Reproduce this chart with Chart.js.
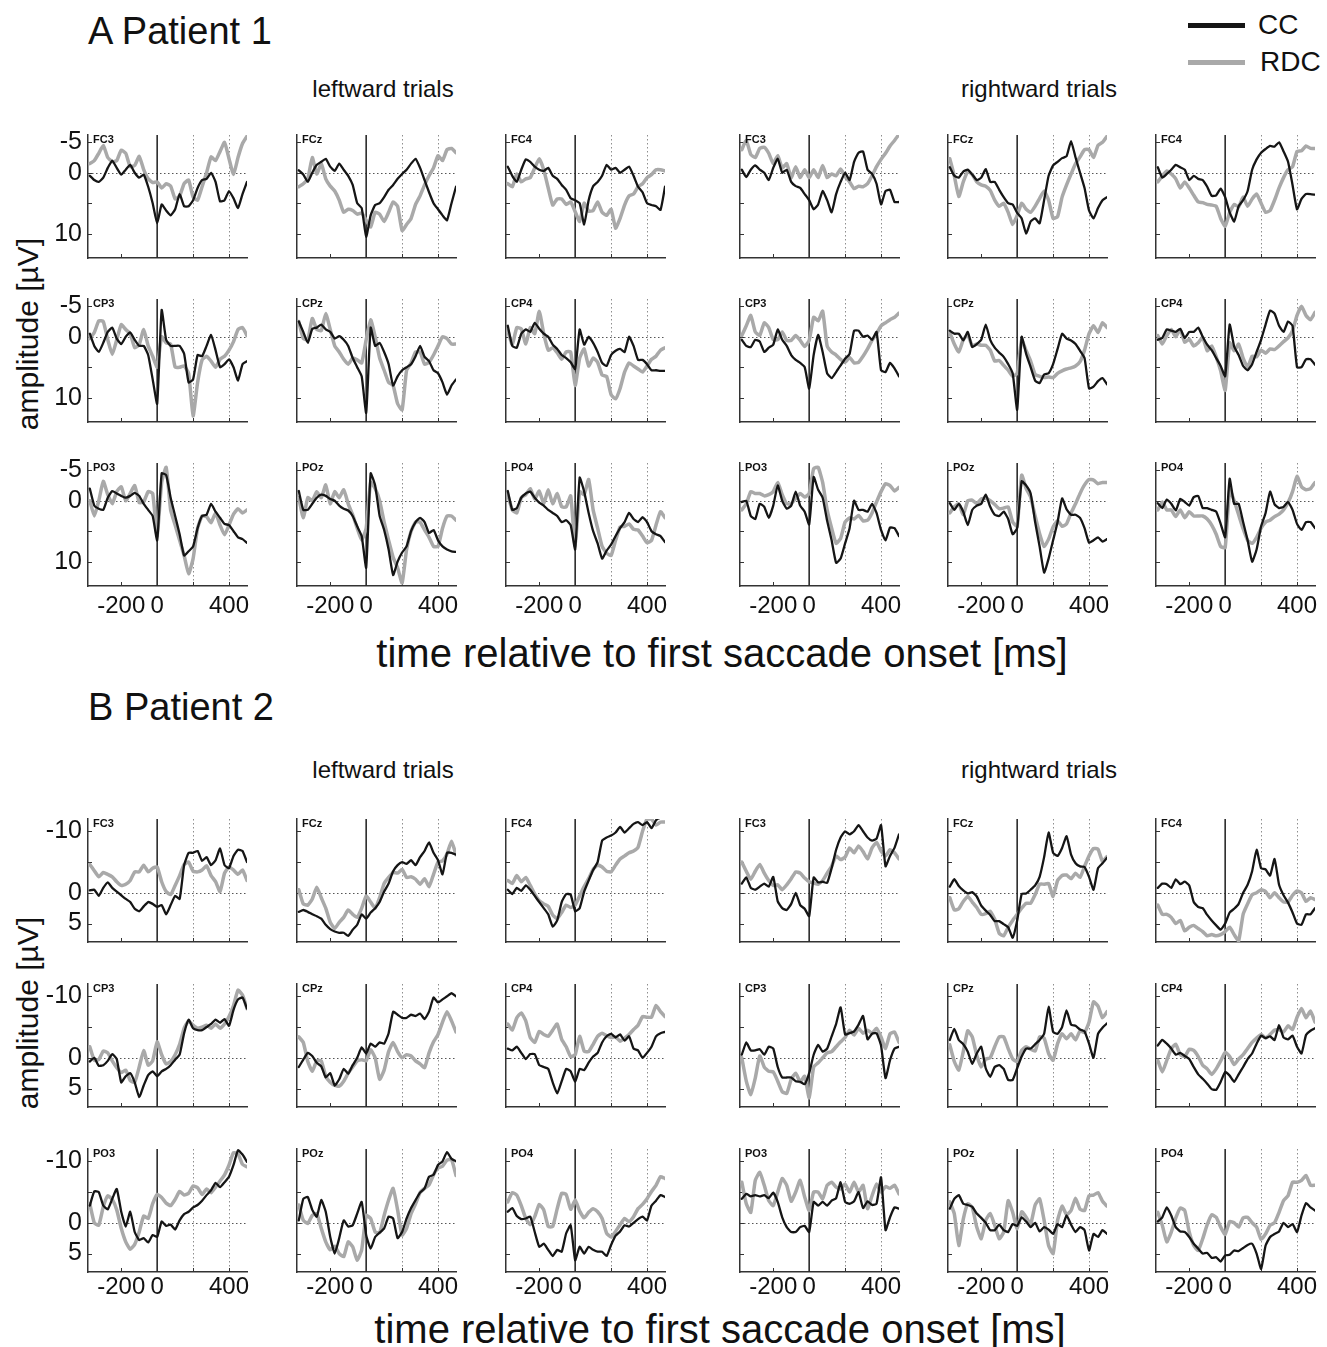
<!DOCTYPE html>
<html lang="en"><head><meta charset="utf-8"><title>CC vs RDC ERPs</title>
<script src="https://cdn.jsdelivr.net/npm/chart.js@4.4.1/dist/chart.umd.min.js"></script>
<style>
html,body{margin:0;padding:0;background:#fff}
body{position:relative;width:1327px;height:1347px;overflow:hidden;font-family:"Liberation Sans",Arial,Helvetica,sans-serif;color:#111}
.txt{position:absolute;white-space:nowrap;line-height:1}
.panel{position:absolute}
.leg{position:absolute;height:5px}
</style></head><body>
<script>
// ---------------- data ----------------
const times = [-375,-350,-325,-300,-275,-250,-225,-200,-175,-150,-125,-100,-75,-50,-25,0,25,50,75,100,125,150,175,200,225,250,275,300,325,350,375,400,425,450,475,500];
const xTickValues = [-200, 0, 200, 400];
const xTickLabels = ['-200', '0', '', '400'];
const yTickValuesA = [-5, 0, 5, 10];
const yTickLabelsA = ['-5', '0', '', '10'];
const yTickValuesB = [-10, -5, 0, 5];
const yTickLabelsB = ['-10', '', '0', '5'];
const dottedTimes = [200, 400];
const channelRows = [['FC3','FCz','FC4'],['CP3','CPz','CP4'],['PO3','POz','PO4']];
const seriesNames = ['CC', 'RDC'];
const patientTitles = ['A Patient 1', 'B Patient 2'];
const groupTitles = ['leftward trials', 'rightward trials'];

// Patient 1 (A) – leftward
const A_L_FC3_CC  = [0.5,1.2,1.5,0.8,-0.8,-2,-0.8,0.3,-0.5,-1.3,0,0.8,0.3,2.3,5,8.3,5.2,6.2,7,6,3.5,5.5,5.5,4.5,2.5,1.2,1,0,1.5,4.7,4.5,3,4.2,5.8,3.5,1.5];
const A_L_FC3_RDC = [-1.5,-2,-3.2,-4.5,-2.5,-1.8,-2,-3.7,-3.2,-1,-1.2,-2.7,-0.5,1,1.6,1.5,2.5,1.8,2.2,4.3,3.8,1.8,1.2,4,4.5,2.3,0,-2.6,-2,-3.5,-5,-2.3,0.3,-2.5,-4.8,-6];
const A_L_FCz_CC  = [-0.4,0.3,1.5,0,-1.3,-1.8,-2.3,-1,-0.3,-1.5,-0.5,0.5,2,5,5.8,10.5,7,5.3,5,4,2.8,2,1,0.2,-0.5,-1.5,-2.3,-0.8,1.2,3.2,5,6,7,7.8,5,2.3];
const A_L_FCz_RDC = [2.3,1.8,1,-2.5,0.2,-1.5,1,2.2,3,4.5,6.5,6,6.2,6.8,6.6,7.8,8.9,6.5,6.8,8,6.5,4.8,5.5,9.5,8.5,7.5,5.2,3.8,2,0.5,-0.8,-2.8,-2,-3.8,-4,-3.3];
const A_L_FC4_CC  = [-1,0.5,1.5,-0.5,-2.2,-1.8,-1,-0.5,-0.3,-0.8,0.5,1,2,2.8,4.2,4.5,5,8.5,4.5,2.2,1.5,0.5,-1.3,-0.5,-0.8,0,-0.5,-1,0.5,2.3,3.2,5,5.3,5.5,6.1,2.3];
const A_L_FC4_RDC = [1.8,2.3,0.2,1.5,1,0.8,-0.8,-2.3,-0.5,2.5,5.3,4.3,4.3,5.2,4.8,6.4,8,5,6.3,6.2,4.8,6.5,7,6,9.1,7.5,5.3,3.8,3.5,2.3,1.8,0.8,0.3,-0.5,-0.5,-0.3];
const A_L_CP3_CC  = [-0.5,1.5,2.5,1,-0.8,-1.5,0.3,1.2,0,-0.7,0.5,1.5,1.5,3,7,11,-4.4,0.5,1.5,1.5,1.5,2.8,7.5,7,3,3.2,1.5,-0.3,2.2,5,4.5,3.7,5,7.2,4.5,4];
const A_L_CP3_RDC = [0.3,-0.7,-2.6,-2.5,0.5,2.9,0.5,-2,-1.2,-0.5,1.8,1.3,-1.2,1.5,3.2,5,0,1,1.2,5,5,4.8,6,13,7.5,3.8,3.2,4,5,3.7,3.2,2.2,0.8,-1.2,-1.5,-0.2];
const A_L_CPz_CC  = [-2.5,-0.8,1,-1.3,-1.5,-2,-1.2,-0.8,0.3,-0.1,0.5,1.5,3.5,5,6.5,12.5,-1.5,1.5,1,2.5,4.5,8,6.5,5.5,5,4.5,3.2,1.5,3.3,4,5.5,6,7.5,9.5,8,7];
const A_L_CPz_RDC = [-2.5,0.3,0.5,-3,-1.2,-1,-3.8,-1.2,1.5,2.5,3.7,4.5,3.5,3.8,4.3,0.5,-2.8,0,3.5,5.5,7.5,8,11,12,5.5,4.3,2.5,2.5,4.5,4.2,3,1.5,0,0.3,1.2,1.2];
const A_L_CP4_CC  = [-1.8,1.5,1.8,-0.5,-1.2,-0.8,-2.3,-1.3,-0.5,0,1.3,2,3,3.5,4.2,5.3,-1.2,1.3,0,1,2.5,4.3,4.8,3,2.3,2,2.5,0,1.5,3.8,3.8,4.5,5.5,5.5,5.6,5.6];
const A_L_CP4_RDC = [-1,1.3,-1.5,-1.3,1.2,-1.5,-0.5,-4.2,-0.5,2.2,1.8,2.6,3.7,2.5,2.5,8,3.5,2,4.8,3.5,4.2,6.3,6.5,9.5,10.2,8.5,5.8,4.3,4.8,5.3,5.8,4.8,3.7,3.2,2.2,1.8];
const A_L_PO3_CC  = [-2,0.8,1.3,1.5,-0.5,-1.6,-1.2,-0.8,-0.5,-0.8,-1.3,-0.8,0.5,1.5,2.5,6.5,-4.5,-4.2,-0.5,2.5,5.5,9,8.3,7.5,4.5,2.5,2.3,0.5,1.8,2.8,3.8,4,5,6,6.3,6.9];
const A_L_PO3_RDC = [0,2.5,0,-3.2,-1,0.5,-1.5,-2.3,0,-1.2,-2.5,0.3,0.2,-1.5,-1.2,5.8,-3,-5.5,1.5,4,6.5,9,12,9.5,4.5,2.5,2.6,3.6,2,4,5.6,4,2.2,1.3,2,1.5];
const A_L_POz_CC  = [-1.6,1.5,1.5,0.5,-0.5,-1,-0.8,-0.3,0,0.8,1.3,1.6,2.5,4.2,5.8,11,-4.5,-2.5,2.5,4.8,8,12.2,10,8.5,7.5,5,3.5,2.8,3.5,5.3,4.8,6.5,7.5,8,8.3,8.4];
const A_L_POz_RDC = [-0.5,2.8,-0.5,0,-1.5,-0.5,-2.6,0.5,-1.5,-0.5,-1.8,0.5,2.3,4.5,6.5,4.5,-3,-2,0,3.5,6.5,9.3,11,13.5,8,5,3.5,3.5,4.8,6,7.5,7.5,4.5,2.5,2.5,3.2];
const A_L_PO4_CC  = [-1.6,1.5,1.2,-0.5,-1.2,-1.5,-0.5,0.3,0.8,1.5,2,2.5,3.5,3.2,4,8,-3.8,-1.5,2,5,7,9.5,8.2,7.2,5.8,4.5,3.5,2,3,3.5,2.7,3.5,5,5.5,5.8,6.8];
const A_L_PO4_RDC = [-1,1.5,2,-0.5,-1,-2,-0.3,-1.6,0.5,-1.8,0.5,-1.2,1,1,-0.8,7.5,-1.5,-1,-3.5,1.5,4.5,7.5,8.6,9,6.5,4.3,4.2,3.8,4.7,4.8,5.8,6.9,6.5,4,1.8,2.8];
// Patient 1 (A) – rightward
const A_R_FC3_CC  = [-0.5,0.7,-0.5,-1.2,-0.5,0,1.2,-0.8,-2.3,0,-0.5,1.5,2.2,2.5,3.5,4.5,6,5.2,3,4.5,6.5,3.5,1.5,0,1.2,-1.8,-3.3,-3.5,-0.5,0.2,1.8,5.2,3,2.8,4.8,4.8];
const A_R_FC3_RDC = [-3.8,-5.3,-3,-2.5,-4,-4.2,-3.2,-1.5,-2.8,-0.8,-1.5,0.8,-1,0.8,-0.5,0.8,-0.5,0.8,-1.2,0.8,0.2,0.5,-0.6,0.6,1.5,2.6,2.2,2.3,1.8,0.5,-1,-2.2,-3.2,-4.4,-5.3,-6.3];
const A_R_FCz_CC  = [-0.9,0.5,0.8,-0.2,-0.5,0.3,1.2,0.8,-0.6,1.5,1.5,2.8,4,5,5.2,6.6,7.5,10,8,7.5,8.3,4.5,0.5,-1.2,-1.8,-2.4,-2.7,-5.2,-2.5,0,2.5,6.2,7.5,5.8,4.5,4];
const A_R_FCz_RDC = [-2.3,0.5,3.9,1.5,-0.2,0.3,1.5,2,2.2,2.9,4.5,5.5,5,6.5,8.5,7,5,6,6.5,5.5,4.2,3,4.5,7.5,7.2,4,2,0.2,-1.5,-2.6,-3.8,-3.8,-2.5,-4.5,-5,-6];
const A_R_FC4_CC  = [-0.9,0.8,0.2,-0.5,-1.3,-0.9,-0.5,1.2,0.5,1,1.2,2.3,3.8,3.7,2.6,4,6.5,8,5.5,4.5,3,-0.5,-2.2,-3.3,-3.9,-4.4,-4.3,-5,-3.5,-1.8,2,6,4.3,3.5,3.5,3.6];
const A_R_FC4_RDC = [1.5,0.5,-0.3,0.2,1,2.5,1.5,2.5,3.7,4.8,4.9,5.2,5.3,5.5,7.5,8.8,6.5,5.2,5.6,4,5.5,4.3,3.5,5,6.5,6.2,4.5,2.5,0.8,-0.5,-1,-3.5,-3.6,-4.4,-4,-4];
const A_R_CP3_CC  = [0.5,1.5,1.7,0.5,0.8,2.5,1.8,1.3,-1.2,0.5,1.5,3,3.8,4.3,5,8.5,3,-0.3,2.5,6,6.8,5.8,4.7,3.6,2.8,-1,-1,0,-0.2,0.5,-0.8,5.5,5.8,4.3,5.2,6.5];
const A_R_CP3_RDC = [-0.2,-1.8,-3.5,-0.8,-0.2,-2.3,-1.5,0.5,0.5,-0.8,0.6,0.6,-0.2,0.6,1.6,0.6,-3.2,-2.6,-4.2,1.5,2.5,3,3.7,4.2,3.4,4.3,4.2,3.2,2,0.6,-0.5,-1.8,-2.3,-2.8,-3.2,-3.9];
const A_R_CPz_CC  = [-1,-0.5,-0.5,0.6,-0.8,1.7,1.2,0.5,-2,0.5,1.8,2.6,3.3,4.5,6,12,0,2.8,5,7.2,7.6,6.2,6,4.5,2,-0.5,0.3,0.6,1.2,2.3,3.5,8.5,8.2,7.3,6.8,7.8];
const A_R_CPz_RDC = [-0.7,1.2,2.5,0.5,-0.3,1.5,1.2,1.4,1.4,2.2,4,3.9,4.7,5.5,6.5,6,0.5,2.3,4,6.2,6.5,6.7,6.6,6.7,6,5.6,5.3,5.1,4.8,4.1,2.2,-0.5,-1.8,-0.7,-2.3,-1.5];
const A_R_CP4_CC  = [0.5,0.2,-1.2,-1,-0.8,-1.3,0.2,-0.8,-0.8,-1.5,0,1.3,2.2,3.5,4.8,6.5,-2,1.6,3,4.8,5.5,4.5,2.5,0.5,-2,-4.3,-3.8,-1.8,-0.8,-2.5,-1.8,5,5,3.7,3.7,4.6];
const A_R_CP4_RDC = [-0.2,1.2,-0.2,-1.2,0,-1.2,0.9,0.4,1.5,1,0.1,2.3,1.5,3.3,5.6,8.8,1,2.3,1.2,3.5,5,3.2,3.3,2.2,2.7,2,2.1,1.5,0.8,0.2,-1,-3.5,-5,-3.5,-2.8,-4];
const A_R_PO3_CC  = [0.2,0,2.5,3,0.5,1,2.8,0.8,-2.5,0,1.3,0.8,-1.5,0.8,1.8,3.9,-3.9,-1.8,-0.5,3.3,6.5,10.2,9.5,7,4.5,0,1.5,1.5,1.8,0.5,2,4.8,6.5,4.4,4.5,5.8];
const A_R_PO3_RDC = [1.5,0.5,-1.5,-1.2,-1.2,-0.8,-1,-1.5,-3,-1,0.5,0.5,-0.4,-1.2,-0.6,-1.2,-5.3,-5.5,-3,1.5,4.5,7,6.2,3.5,2.8,3,2.4,3.3,3.2,2,0.2,-1.5,-2.8,-2.5,-1.6,-2.2];
const A_R_POz_CC  = [0.4,1.5,0.5,1.8,4,1.5,0.8,0.5,-1,1,2.3,2.5,1.8,3,5.5,4.5,-3.2,-2.5,-1.2,3.5,7.5,11.8,9.5,6.5,3.5,-0.4,1.4,2.3,2.3,2.8,4.5,6.9,6.5,6,6.7,6.3];
const A_R_POz_RDC = [2,1,0.5,2.3,0,-0.1,0.5,-0.3,-0.4,0,0.6,1.3,1.2,1,3.5,4.2,-4.2,-2,-0.6,2.5,5.4,7.5,6.3,4.3,3.3,4.2,3.8,2,0.5,-1.2,-2.6,-3.5,-3.4,-2.8,-3,-3];
const A_R_PO4_CC  = [0.4,1.2,-0.2,0.5,1.6,-0.3,0.2,0.8,-0.6,-0.8,1.2,1.2,1.5,1.8,3.8,6,-3.6,0.5,0.5,3.5,6.5,10,8,4.2,2,-1.5,0.6,1.2,1,0.2,1.5,3.8,4.8,3.5,3.5,4.5];
const A_R_PO4_RDC = [1.5,0.2,1.5,1.5,2.6,1.5,2.8,1.8,2.5,2.5,2.5,3,4,5.5,7.5,7.7,-1.8,0,2.3,4.6,6.5,7,6,4.5,3.5,3.2,2.6,2.2,1.5,0.3,-1.5,-4,-2.3,-1.8,-2,-3];
// Patient 2 (B) – leftward
const B_L_FC3_CC  = [-0.4,-0.5,0.5,-0.8,-1.7,-0.8,-0.2,0.4,1,1.5,2.6,3,2.2,1.5,1.8,2.3,2,3.5,2,0.5,1,-4.5,-6.5,-6.5,-6.8,-5.2,-5.8,-4.5,-5.3,-7.2,-4.5,-4,-6,-7,-6.8,-5];
const B_L_FC3_RDC = [-4.6,-3.6,-2.6,-3.3,-3,-2.6,-1.8,-1.2,-1.4,-2,-3.4,-3.4,-4.5,-3.4,-4,-4.2,-1.8,-0.2,0.3,-1.2,-2.8,-4.6,-5,-3.5,-3.4,-3.7,-4.4,-2.8,-1.8,-0.2,-3.2,-4.2,-3.7,-3,-3.7,-2];
const B_L_FCz_CC  = [3.1,2.8,3.1,3.5,3.8,4.2,5.2,5.9,6.3,6.5,6.5,7,6,5.2,3.5,4.2,3.2,2.5,1.5,-0.2,-1.5,-3.5,-4.5,-5,-4.7,-5.3,-4.5,-5.8,-6.8,-8.2,-6.5,-5.3,-3,-6.5,-6.5,-6.2];
const B_L_FCz_RDC = [-0.5,1.8,2,1,-0.9,0.8,2.5,4.8,5.8,4.8,4,2.8,3.5,4,2.5,0.5,1.5,2.5,0.8,-1.5,-2.5,-3.3,-3.2,-3.8,-2.5,-2.6,-2.2,-1.4,-2.3,-1,-3,-5,-5.2,-6.3,-8.4,-6.2];
const B_L_FC4_CC  = [-0.5,0.2,-0.8,-0.3,-1.2,-0.5,0.5,1.5,2.5,3.5,5.5,4.5,1.5,0.2,0.3,3,2.5,-0.2,-2,-3.7,-5,-8.5,-9,-9.3,-9.8,-10.7,-9.8,-10.5,-11.2,-11.5,-11,-11.5,-10.5,-11.8,-12.2,-12.2];
const B_L_FC4_RDC = [-2,-1.5,-2.8,-1.8,-2.5,-1.2,0.2,1.3,1.8,2.2,3.6,4.2,3.2,2,2.4,2,0.5,-1,-2.3,-3.8,-4.5,-4.2,-3.5,-3.4,-4.5,-5.5,-6,-6.5,-6.8,-7.4,-10,-12,-12,-11,-11.5,-11.5];
const B_L_CP3_CC  = [0.6,0,1.3,1.2,0.5,-0.6,0.2,4,3,2.5,4,6.4,4.5,2.8,2.2,3,2.2,1.8,1.2,0.3,-0.5,-4,-6.2,-4.8,-4.5,-4.5,-5,-5.5,-6.2,-5.7,-6.3,-5.2,-7.8,-9.5,-9.8,-8];
const B_L_CP3_RDC = [-1.8,0.4,0.3,-1.1,-0.8,0.5,1.6,2.4,2,3.7,4,1.5,-1.2,1.2,0.5,-2.6,-0.5,1,0.6,-0.5,-2.2,-4.8,-6,-5.3,-4.8,-5,-5.3,-4.8,-5.5,-4.8,-5.5,-6.7,-8.5,-11,-10.2,-8];
const B_L_CPz_CC  = [1.5,0.3,-0.8,-0.3,0.8,1.4,3.2,2.5,4.5,3.5,1.8,2.6,1.2,0,-1.7,-0.7,-2.3,-1.8,-2.5,-2.3,-4,-7.5,-7,-6.5,-6.5,-7,-6.8,-7.2,-6.3,-7.5,-9.8,-9,-9.5,-10,-10.5,-10];
const B_L_CPz_RDC = [-3.4,-2.5,0.6,2.2,0.5,0.5,3,4,4.5,4.6,3.8,2.5,1.5,0.5,0.3,0.5,-1.3,0,3.5,2,-1,-2.5,-1,0,-0.5,-0.3,0.5,1,1.6,-0.8,-2.6,-3.8,-5.8,-7.5,-6,-4.2];
const B_L_CP4_CC  = [-1.5,-1.2,-1.8,-0.8,0.2,-0.6,-0.6,1.2,1.5,1.8,4,5.8,3.8,1.8,2.2,3.9,1.8,2,0.8,-0.2,-0.8,-2.5,-3.5,-3.9,-3.3,-3.8,-2.8,-3.5,-1.5,-1.2,0,-0.8,-1.8,-3.5,-4,-4.2];
const B_L_CP4_RDC = [-5.5,-4.5,-6.5,-7.3,-6,-3.3,-2.5,-4.3,-3.8,-3.5,-4.5,-5.5,-3,-1.8,-0.2,-0.5,-3.5,-1.1,-1,-2.2,-3.5,-4,-3.6,-3.3,-3.4,-2.7,-3.2,-3.8,-4.6,-5.3,-6.7,-6.6,-6.6,-8.5,-7.5,-6.7];
const B_L_PO3_CC  = [-2.8,-5.1,-5,-2.8,-2.2,-3.9,-5.5,-1.8,0.6,-1.8,1.5,2.8,2.5,3.2,2,2.3,-0.2,0.5,0.3,1.1,-0.4,-1.4,-1.8,-2.5,-2.9,-3.6,-4.5,-5.3,-6.5,-5.8,-6.6,-7.5,-9.4,-11.8,-11.1,-9.9];
const B_L_PO3_RDC = [-3.1,0,0.4,-2.6,-4.4,-3.8,-2.1,0.9,3.1,4.3,3.5,1.5,-1.1,-0.7,-3.1,-4.6,-4.1,-3.2,-2.8,-3.8,-5.1,-4.5,-4.8,-6,-5.7,-4.6,-5.5,-4.9,-5.8,-6.8,-7.8,-9.4,-11.4,-11.2,-9.5,-9.1];
const B_L_POz_CC  = [-0.4,-3.9,-4.2,-2.1,-1,-3.7,-1.8,2.3,5,2.5,-0.4,0.6,0.4,-1.5,-3.4,2,4.2,2.3,1.6,0.9,-1,-0.7,2.5,1.5,-0.7,-2.4,-3.7,-4.9,-5.6,-7.5,-7.8,-9.4,-10,-11.5,-10.4,-10];
const B_L_POz_RDC = [-2.9,-0.4,0.1,-1.2,-1.5,0.9,3.1,4.4,3.8,5,5.5,3.1,3.9,6.1,4.4,-1.2,-0.7,1.5,1.6,-1.2,-3.7,-5.6,-2.1,2,0.9,-1.5,-3.1,-4.9,-5.6,-6.2,-7.8,-8.9,-9.2,-10.2,-10.3,-7.7];
const B_L_PO4_CC  = [-1.8,-2.4,-1.1,-0.6,-0.7,-1,1.5,3.9,3.4,4.4,5.4,4.4,4.7,1.7,0.4,6.1,3.9,5,3.9,4.4,4.7,4.7,5.4,3.6,2.1,1.4,0.4,0.6,0,-0.6,-1,-0.4,-2.8,-3.6,-4.5,-4.2];
const B_L_PO4_RDC = [-3.4,-4.9,-4.5,-2.8,-0.7,0.3,-1,-3,-2.1,0.6,0.6,-2.3,-4.8,-4.6,-2.2,-3.7,-1.9,-0.8,-1.7,-2.3,-1.8,-0.7,1.7,2.3,1.4,0.3,-0.7,-0.2,-1,-2.3,-3,-3.9,-5.1,-6.1,-7.5,-7.2];
// Patient 2 (B) – rightward
const B_R_FC3_CC  = [-1.5,-2.5,-0.8,-0.5,-1,-1.5,-1,-2.6,1.4,2.5,2.8,1.8,0,2,2.6,3.8,-2.5,-1.7,-1.8,-1.6,-4,-7,-9,-10,-9.5,-10,-11,-10,-9,-8.5,-8.8,-11,-4.3,-6,-7.3,-9.5];
const B_R_FC3_RDC = [-5,-3.5,-2.2,-3.5,-4.6,-3.2,-2,-1.2,-1.3,-0.5,-1.3,-2.3,-3.4,-3.2,-2.4,-1.8,-1.6,-1.4,-2,-3.2,-4.3,-6,-5.4,-5.8,-7.3,-6.5,-7.6,-6.7,-5.5,-7.3,-8.2,-6.8,-6,-7,-6.5,-5.5];
const B_R_FCz_CC  = [-1,-2.2,-1.1,-0.4,0.1,-0.1,0.6,2.1,2.9,3.6,4.6,4.6,5.1,5.6,7.3,4.5,0.2,0.1,-0.5,-1.2,-2.6,-5.8,-9.8,-6.5,-6,-7.3,-9.2,-6.2,-4.8,-4.3,-4.2,-2.6,-0.5,-4,-4.8,-5.7];
const B_R_FCz_RDC = [0.8,2.8,2.6,1.4,0.6,1.5,2.4,3.5,3.4,3,4.3,6.6,7,5.6,4.5,3.5,2.5,1.7,1.7,0.3,-1.4,-1.4,-1.5,0.6,-2,-2.8,-2.9,-2.3,-3.2,-2.5,-4.3,-6,-7.2,-7.1,-5.1,-5.9];
const B_R_FC4_CC  = [-0.8,-1.5,-1.4,-0.8,-2.2,-1.4,-1.8,-1.2,1.5,2.3,2.5,3.6,4.5,5.3,6,5,3.2,2.6,1.8,0,-1.3,-3.5,-7,-4,-3.8,-2.8,-5.5,-1.3,0.4,1.6,3.2,5,5.2,3.5,3.5,2.5];
const B_R_FC4_RDC = [2,3.5,3.5,4,5,4.5,6.2,5.6,5.3,5.8,6.3,7,6.8,7,6.8,6.3,5.6,6.8,7.8,3.5,1.8,0.3,0,-0.5,-0.2,0.8,0,0.8,1.5,1.5,0.4,-0.3,0,1.4,0.8,1.1];
const B_R_CP3_CC  = [-0.5,-2.5,-1.2,-1.2,-1.4,-0.5,-1.8,-1.5,1.5,3.2,3.2,3.2,3.8,3.9,4.3,2.5,-0.5,-2.1,-1,-1.5,-3.5,-5.5,-8.2,-3.8,-4,-4.3,-5.4,-6.8,-3,-3.9,-4,-2,3.3,0.4,-1.5,-1.8];
const B_R_CP3_RDC = [0,3.8,6,3.3,-0.3,1.5,2.2,2.3,3.8,5.5,5.8,3.5,2.5,3.9,3,6.5,1.5,0.8,0,-0.8,-1,-1.8,-2.6,-3.3,-4.5,-3.7,-4.8,-4,-4.5,-4,-4.8,-3.4,-1.5,-3.9,-4.2,-2.5];
const B_R_CPz_CC  = [-2.9,-4.7,-2.9,-2.2,-1,1,-0.7,-1.8,1.7,3.1,1.5,1.2,1.8,3.6,3.6,1.7,-0.2,-1.5,-1.5,-2.2,-2.9,-3.9,-8.3,-4.2,-3.9,-5,-7.7,-5.4,-5.2,-4.6,-4.3,-2.3,0,-3.9,-4.9,-5.6];
const B_R_CPz_RDC = [-2.1,0.6,2,-1,-4.4,-3.4,-0.4,1.5,0.2,0,-1.8,-3.4,-3.4,-1.5,0.2,0.6,-1.2,-1.8,-1.4,-1.1,-3.4,-3.2,-0.7,0.4,-2.3,-3.9,-3.1,-3.9,-2.9,-4.4,-4.1,-5.8,-9.1,-8.4,-6.5,-7.5];
const B_R_CP4_CC  = [-2,-2.9,-2.3,-1.5,-0.5,-0.8,-0.3,0.2,1.5,2.7,3.4,4.2,5.1,5.2,3.9,2.3,2.9,3.9,2.7,1.5,0.2,-0.7,-2.3,-3.6,-3.2,-3.5,-2.9,-5.3,-3.3,-3,-3.6,-1.8,-0.7,-3.7,-4.4,-4.8];
const B_R_CP4_RDC = [0.4,2.3,0.4,-1.5,-2.2,-0.5,-0.2,-1.4,-1.2,-0.2,1.2,1.8,2.7,1.8,0.5,-0.9,-0.2,1.1,0.2,-0.5,-1.5,-2.5,-3.2,-3.8,-3.2,-3.8,-4.5,-4.6,-4.2,-5.2,-4.6,-6.6,-8,-6.5,-7.6,-5.8];
const B_R_PO3_CC  = [-3.9,-4.7,-4.3,-4.5,-4.3,-4.5,-4,-4.9,-3.4,-0.9,0.7,1.5,1.5,0.7,0.5,1.5,-3.4,-2.8,-3.4,-2.8,-3.6,-4,-6.6,-3.4,-3.1,-3.5,-5,-2.4,-3.5,-2.9,-3.1,-7.4,1.2,-0.9,-2.5,-2.3];
const B_R_PO3_RDC = [-6.6,-3.1,-1.7,-6.9,-8.2,-6.1,-3.6,-2.8,-5,-7.2,-6.1,-3.5,-5,-6.9,-4.2,-2,-5,-5,-3.9,-6.1,-6.6,-5.8,-5.5,-6.3,-5,-6.6,-5,-6.1,-2.3,-4.4,-6.3,-5,-5.9,-5.6,-6.1,-4.7];
const B_R_POz_CC  = [-2.3,-3.9,-4.5,-3.1,-2.9,-2.6,-1.5,-0.8,0,1.2,1.2,0.3,1.2,1.5,0.2,0.5,-0.9,-0.2,0.7,0,1.4,0.7,1.1,1.8,0.2,0.7,-1.2,0.3,1.5,0.7,1.2,4.5,1.8,2.3,1.2,1.8];
const B_R_POz_RDC = [-3.4,-1.5,3.7,-0.6,-3.1,-2.5,0.7,2.6,-0.4,-1.5,0.4,2.6,1.5,-3.6,-1.7,1,-1.8,-0.9,0.2,-2.9,-3.9,-0.4,3.7,5,-0.4,-2.7,-1.3,-2,-4,-2.2,-2,-4.4,-4.5,-4.9,-3.5,-2.7];
const B_R_PO4_CC  = [-0.2,-0.9,-2.5,-1.2,0.7,1.4,1.5,2.3,3.4,4.2,5,4.9,5.7,5.6,6.3,5.3,5.2,4.5,4.6,4.1,3.6,3.4,5,7.5,3.7,2.3,1.8,1.4,0,0.7,0.2,1.5,-1.2,-3.2,-2.5,-2];
const B_R_PO4_RDC = [-1.7,0.4,3.1,1.5,-0.8,-2.4,-2,1.5,3.7,4.5,2.6,0.3,-1.3,-0.9,0.7,1.9,-0.2,0,0.7,-0.8,-0.9,0,0.7,2.7,1.8,0.4,0,-1.7,-3.6,-4.4,-6.6,-6.6,-6.9,-7.7,-6.1,-6.1];

// lookup table built from the named arrays
const DATA = {
  A_L_FC3_CC, A_L_FC3_RDC, A_L_FCz_CC, A_L_FCz_RDC, A_L_FC4_CC, A_L_FC4_RDC,
  A_L_CP3_CC, A_L_CP3_RDC, A_L_CPz_CC, A_L_CPz_RDC, A_L_CP4_CC, A_L_CP4_RDC,
  A_L_PO3_CC, A_L_PO3_RDC, A_L_POz_CC, A_L_POz_RDC, A_L_PO4_CC, A_L_PO4_RDC,
  A_R_FC3_CC, A_R_FC3_RDC, A_R_FCz_CC, A_R_FCz_RDC, A_R_FC4_CC, A_R_FC4_RDC,
  A_R_CP3_CC, A_R_CP3_RDC, A_R_CPz_CC, A_R_CPz_RDC, A_R_CP4_CC, A_R_CP4_RDC,
  A_R_PO3_CC, A_R_PO3_RDC, A_R_POz_CC, A_R_POz_RDC, A_R_PO4_CC, A_R_PO4_RDC,
  B_L_FC3_CC, B_L_FC3_RDC, B_L_FCz_CC, B_L_FCz_RDC, B_L_FC4_CC, B_L_FC4_RDC,
  B_L_CP3_CC, B_L_CP3_RDC, B_L_CPz_CC, B_L_CPz_RDC, B_L_CP4_CC, B_L_CP4_RDC,
  B_L_PO3_CC, B_L_PO3_RDC, B_L_POz_CC, B_L_POz_RDC, B_L_PO4_CC, B_L_PO4_RDC,
  B_R_FC3_CC, B_R_FC3_RDC, B_R_FCz_CC, B_R_FCz_RDC, B_R_FC4_CC, B_R_FC4_RDC,
  B_R_CP3_CC, B_R_CP3_RDC, B_R_CPz_CC, B_R_CPz_RDC, B_R_CP4_CC, B_R_CP4_RDC,
  B_R_PO3_CC, B_R_PO3_RDC, B_R_POz_CC, B_R_POz_RDC, B_R_PO4_CC, B_R_PO4_RDC
};

// ---------------- layout / style ----------------
const FONT = '"Liberation Sans", Arial, Helvetica, sans-serif';
const COL_LEFT = [88, 297, 506, 740, 948, 1156];
const ROW_TOP = { A: [135, 299, 463], B: [819, 984, 1149] };
const PLOT_W = 159, PLOT_H = 123;
const Y_W = 70, X_H = 40, PAD_T = 26, PAD_R = 16;
const Y_RANGE = { A: [-6.2, 14], B: [-12, 8] };
const CC_COLOR = '#151515', RDC_COLOR = '#a9a9a9';

function addText(str, x, y, size, opts = {}) {
  const d = document.createElement('div');
  d.className = 'txt';
  d.textContent = str;
  d.style.fontSize = size + 'px';
  d.style.left = x + 'px';
  d.style.top = y + 'px';
  if (opts.rotate) {
    d.style.transform = `translate(-50%,-50%) rotate(${opts.rotate}deg)`;
  } else {
    const tx = opts.align === 'center' ? '-50%' : '0';
    d.style.transform = `translate(${tx},-50%)`;
  }
  document.body.appendChild(d);
  return d;
}

const eegDecor = {
  id: 'eegDecor',
  beforeDatasetsDraw(chart) {
    const ctx = chart.ctx, a = chart.chartArea, xs = chart.scales.x, ys = chart.scales.y;
    ctx.save();
    ctx.lineWidth = 1;
    ctx.setLineDash([1.5, 2.5]);
    ctx.strokeStyle = '#8e8e8e';
    for (const v of dottedTimes) {
      const px = Math.round(xs.getPixelForValue(v)) + 0.5;
      ctx.beginPath(); ctx.moveTo(px, a.top); ctx.lineTo(px, a.bottom); ctx.stroke();
    }
    ctx.strokeStyle = '#555';
    const py = Math.round(ys.getPixelForValue(0)) + 0.5;
    ctx.beginPath(); ctx.moveTo(a.left, py); ctx.lineTo(a.right, py); ctx.stroke();
    ctx.setLineDash([]);
    ctx.strokeStyle = '#2b2b2b'; ctx.lineWidth = 1.6;
    const p0 = xs.getPixelForValue(0);
    ctx.beginPath(); ctx.moveTo(p0, a.top); ctx.lineTo(p0, a.bottom); ctx.stroke();
    ctx.lineWidth = 1; ctx.strokeStyle = '#333';
    for (const t of xs.ticks) {
      if (t.value === 0) continue;
      const px = Math.round(xs.getPixelForValue(t.value)) + 0.5;
      ctx.beginPath(); ctx.moveTo(px, a.bottom); ctx.lineTo(px, a.bottom - 4); ctx.stroke();
    }
    for (const t of ys.ticks) {
      const p = Math.round(ys.getPixelForValue(t.value)) + 0.5;
      ctx.beginPath(); ctx.moveTo(a.left, p); ctx.lineTo(a.left + 4, p); ctx.stroke();
    }
    ctx.restore();
  },
  afterDatasetsDraw(chart, args, opts) {
    const ctx = chart.ctx, a = chart.chartArea;
    ctx.save();
    ctx.font = 'bold 11px ' + FONT;
    ctx.fillStyle = '#111';
    ctx.textBaseline = 'alphabetic';
    ctx.fillText(opts.label, a.left + 5, a.top + 8);
    ctx.restore();
  }
};

function makePanel(patient, row, col) {
  const group = col < 3 ? 'L' : 'R';
  const ch = channelRows[row][col % 3];
  const key = `${patient}_${group}_${ch}`;
  const cc = DATA[key + '_CC'], rdc = DATA[key + '_RDC'];
  const left = COL_LEFT[col], top = ROW_TOP[patient][row];
  const W = Y_W + PLOT_W + PAD_R, H = PAD_T + PLOT_H + X_H;
  const cv = document.createElement('canvas');
  cv.className = 'panel';
  cv.width = W; cv.height = H;
  cv.style.width = W + 'px'; cv.style.height = H + 'px';
  cv.style.left = (left - Y_W) + 'px'; cv.style.top = (top - PAD_T) + 'px';
  document.body.appendChild(cv);
  const yVals = patient === 'A' ? yTickValuesA : yTickValuesB;
  const yLabs = patient === 'A' ? yTickLabelsA : yTickLabelsB;
  new Chart(cv, {
    type: 'line',
    data: {
      datasets: [
        { label: seriesNames[0], data: times.map((t, i) => ({ x: t, y: cc[i] })), borderColor: CC_COLOR, borderWidth: 2.3, pointRadius: 0, tension: 0.15, borderJoinStyle: 'round', borderCapStyle: 'round' },
        { label: seriesNames[1], data: times.map((t, i) => ({ x: t, y: rdc[i] })), borderColor: RDC_COLOR, borderWidth: 3.5, pointRadius: 0, tension: 0.15, borderJoinStyle: 'round', borderCapStyle: 'round' }
      ]
    },
    options: {
      responsive: false, animation: false, devicePixelRatio: 1, parsing: false,
      layout: { padding: { left: 0, right: PAD_R, top: PAD_T, bottom: 0 } },
      plugins: { legend: { display: false }, tooltip: { enabled: false }, title: { display: false }, eegDecor: { label: ch } },
      events: [],
      scales: {
        x: {
          type: 'linear', min: -385, max: 500,
          grid: { display: false, drawTicks: false },
          border: { display: true, color: '#333', width: 1.5 },
          afterBuildTicks: s => { s.ticks = xTickValues.map(v => ({ value: v })); },
          afterFit: s => { s.height = X_H; },
          ticks: { display: row === 2, autoSkip: false, maxRotation: 0, minRotation: 0, padding: patient === 'A' ? 6 : 1, font: { family: FONT, size: 24 }, color: '#111', callback: (v, i) => xTickLabels[i] }
        },
        y: {
          type: 'linear', reverse: true, min: Y_RANGE[patient][0], max: Y_RANGE[patient][1],
          grid: { display: false, drawTicks: false },
          border: { display: true, color: '#333', width: 1.5 },
          afterBuildTicks: s => { s.ticks = yVals.map(v => ({ value: v })); },
          afterFit: s => { s.width = Y_W; },
          ticks: { display: col === 0, autoSkip: false, padding: 6, font: { family: FONT, size: 25 }, color: '#111', callback: (v, i) => yLabs[i] }
        }
      }
    },
    plugins: [eegDecor]
  });
}

// ---------------- text ----------------
addText(patientTitles[0], 88, 31, 38);
addText(patientTitles[1], 88, 707, 38);
addText(groupTitles[0], 383, 89, 24, { align: 'center' });
addText(groupTitles[1], 1039, 89, 24, { align: 'center' });
addText(groupTitles[0], 383, 770, 24, { align: 'center' });
addText(groupTitles[1], 1039, 770, 24, { align: 'center' });
addText('time relative to first saccade onset [ms]', 722, 653, 40, { align: 'center' });
addText('time relative to first saccade onset [ms]', 720, 1329, 40, { align: 'center' });
addText('amplitude [µV]', 28, 334, 30, { rotate: -90 });
addText('amplitude [µV]', 28, 1013, 30, { rotate: -90 });

// legend
function legLine(y, color) {
  const d = document.createElement('div');
  d.className = 'leg';
  d.style.left = '1188px'; d.style.top = (y - 2.5) + 'px'; d.style.width = '57px'; d.style.background = color;
  document.body.appendChild(d);
}
legLine(25, CC_COLOR); legLine(62, RDC_COLOR);
addText(seriesNames[0], 1258, 25, 28);
addText(seriesNames[1], 1260, 62, 28);

// ---------------- panels ----------------
for (const p of ['A', 'B']) for (let r = 0; r < 3; r++) for (let c = 0; c < 6; c++) makePanel(p, r, c);
</script>
</body></html>
